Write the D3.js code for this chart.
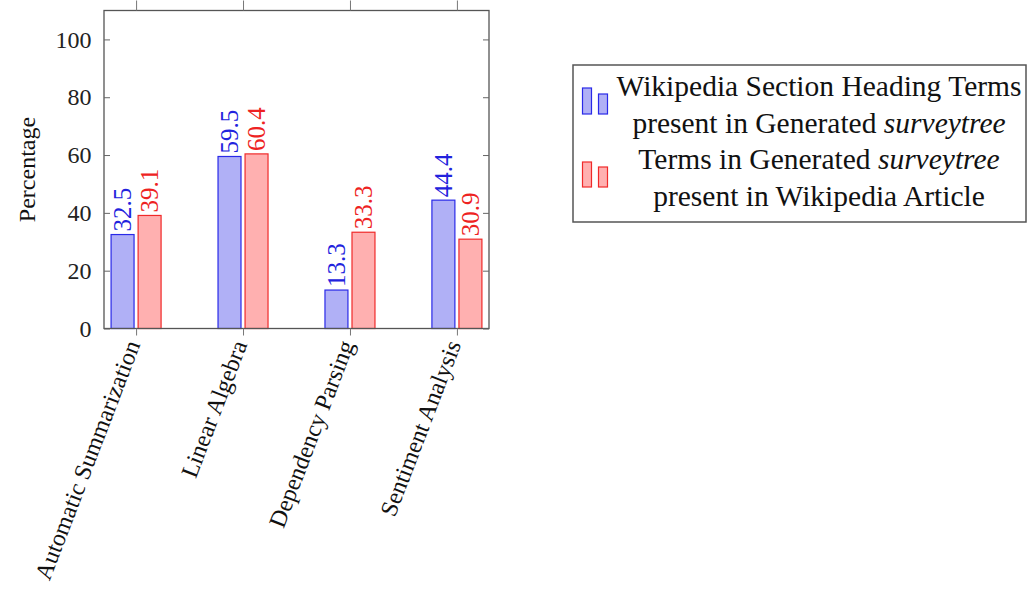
<!DOCTYPE html>
<html>
<head>
<meta charset="utf-8">
<script src="https://cdn.jsdelivr.net/npm/d3@7"></script>
<style>
  html, body { margin: 0; padding: 0; background: #fff; }
  svg { display: block; }
  svg text { font-family: "Liberation Serif", "Times New Roman", serif !important; }
</style>
</head>
<body>
<svg id="chart" width="1028" height="589"></svg>
<script>
// ---- data ----
const categories = ["Automatic Summarization", "Linear Algebra", "Dependency Parsing", "Sentiment Analysis"];
const seriesNames = ["Wikipedia Section Heading Terms present in Generated surveytree",
                     "Terms in Generated surveytree present in Wikipedia Article"];
const headingTermsPresent = [32.5, 59.5, 13.3, 44.4];
const generatedTermsPresent = [39.1, 60.4, 33.3, 30.9];
const yTicks = [0, 20, 40, 60, 80, 100];
const yLabel = "Percentage";

const seriesValues = [headingTermsPresent, generatedTermsPresent];
const strokeColors = ["#2a2ae8", "#f02a2a"];
const fillColors = ["#b0b0f6", "#ffb0b0"];
const textColors = ["#2222dd", "#ee2222"];
const SERIF = "'Liberation Serif', 'Times New Roman', serif";

const svg = d3.select("#chart");
const L = 104, R = 489, T = 10.5, B = 328.5;

const x = d3.scalePoint().domain(categories).range([L, R]).padding(0.3);
const x1 = d3.scaleBand().domain([0, 1]).range([-25, 25]).paddingInner(0.15);
const y = d3.scaleLinear().domain([0, 110]).range([B, T]);

// bars
const g = svg.append("g");
seriesValues.forEach((vals, si) => {
  g.selectAll(".bar" + si).data(vals).enter().append("rect")
    .attr("x", (d, i) => x(categories[i]) + x1(si))
    .attr("y", d => y(d))
    .attr("width", x1.bandwidth())
    .attr("height", d => y(0) - y(d))
    .attr("fill", fillColors[si])
    .attr("stroke", strokeColors[si])
    .attr("stroke-width", 1.2);
  g.selectAll(".lab" + si).data(vals).enter().append("text")
    .attr("transform", (d, i) => `translate(${x(categories[i]) + x1(si) + x1.bandwidth() / 2},${y(d) - 3}) rotate(-90)`)
    .attr("dominant-baseline", "central")
    .attr("text-anchor", "start")
    .attr("fill", textColors[si])
    .attr("font-size", 25)
    .style("font-family", SERIF)
    .text(d => d.toFixed(1));
});

// frame
svg.append("rect").attr("x", L).attr("y", T).attr("width", R - L).attr("height", B - T)
  .attr("fill", "none").attr("stroke", "#555").attr("stroke-width", 1.3);

// y ticks (inside, both sides) and labels
const yAxisL = d3.axisLeft(y).tickValues(yTicks).tickSizeInner(-6).tickSizeOuter(0).tickPadding(10);
const ya = svg.append("g").attr("transform", `translate(${L},0)`).call(yAxisL);
ya.attr("font-family", null);
ya.select(".domain").remove();
ya.selectAll("line").attr("stroke", "#666");
ya.selectAll("text").attr("font-size", 24).attr("fill", "#222")
  .style("font-family", SERIF).attr("dx", "-0.1em");
const yAxisR = d3.axisRight(y).tickValues(yTicks).tickSizeInner(-6).tickSizeOuter(0).tickFormat("");
const yr = svg.append("g").attr("transform", `translate(${R},0)`).call(yAxisR);
yr.select(".domain").remove();
yr.selectAll("line").attr("stroke", "#666");

// x ticks (outside, top and bottom)
const xb = svg.append("g").attr("transform", `translate(0,${B})`)
  .call(d3.axisBottom(x).tickSizeInner(7).tickSizeOuter(0).tickFormat(""));
xb.select(".domain").remove();
xb.selectAll("line").attr("stroke", "#777");
const xt = svg.append("g").attr("transform", `translate(0,${T})`)
  .call(d3.axisTop(x).tickSizeInner(10).tickSizeOuter(0).tickFormat(""));
xt.select(".domain").remove();
xt.selectAll("line").attr("stroke", "#777");

// category labels
svg.append("g").selectAll("text").data(categories).enter().append("text")
  .attr("transform", d => `translate(${x(d) - 3},${B + 13}) rotate(-69)`)
  .attr("text-anchor", "end")
  .attr("dominant-baseline", "central")
  .attr("font-size", 24)
  .attr("fill", "#111")
  .style("font-family", SERIF)
  .text(d => d);

// y label
svg.append("text")
  .attr("transform", `translate(27,${(T + B) / 2}) rotate(-90)`)
  .attr("text-anchor", "middle")
  .attr("dominant-baseline", "central")
  .attr("font-size", 24)
  .attr("fill", "#111")
  .style("font-family", SERIF)
  .text(yLabel);

// legend
const lg = svg.append("g");
lg.append("rect").attr("x", 573).attr("y", 65).attr("width", 453).attr("height", 157)
  .attr("fill", "#fff").attr("stroke", "#555").attr("stroke-width", 1.5);
const legendLines = [
  [["Wikipedia Section Heading Terms", false]],
  [["present in Generated ", false], ["surveytree", true]],
  [["Terms in Generated ", false], ["surveytree", true]],
  [["present in Wikipedia Article", false]]
];
const baselines = [96, 133, 169, 206];
legendLines.forEach((parts, li) => {
  const t = lg.append("text").attr("x", 819).attr("y", baselines[li])
    .attr("text-anchor", "middle").attr("font-size", 29.5).attr("fill", "#111")
    .style("font-family", SERIF);
  parts.forEach(p => {
    t.append("tspan").text(p[0]).attr("font-style", p[1] ? "italic" : "normal");
  });
});
const iconTops = [[88, 94], [162, 167]];
const iconBottoms = [114, 187];
[0, 1].forEach(si => {
  lg.append("rect").attr("x", 582.5).attr("y", iconTops[si][0]).attr("width", 9)
    .attr("height", iconBottoms[si] - iconTops[si][0])
    .attr("fill", fillColors[si]).attr("stroke", strokeColors[si]).attr("stroke-width", 1.2);
  lg.append("rect").attr("x", 598.5).attr("y", iconTops[si][1]).attr("width", 9)
    .attr("height", iconBottoms[si] - iconTops[si][1])
    .attr("fill", fillColors[si]).attr("stroke", strokeColors[si]).attr("stroke-width", 1.2);
});
</script>
</body>
</html>
